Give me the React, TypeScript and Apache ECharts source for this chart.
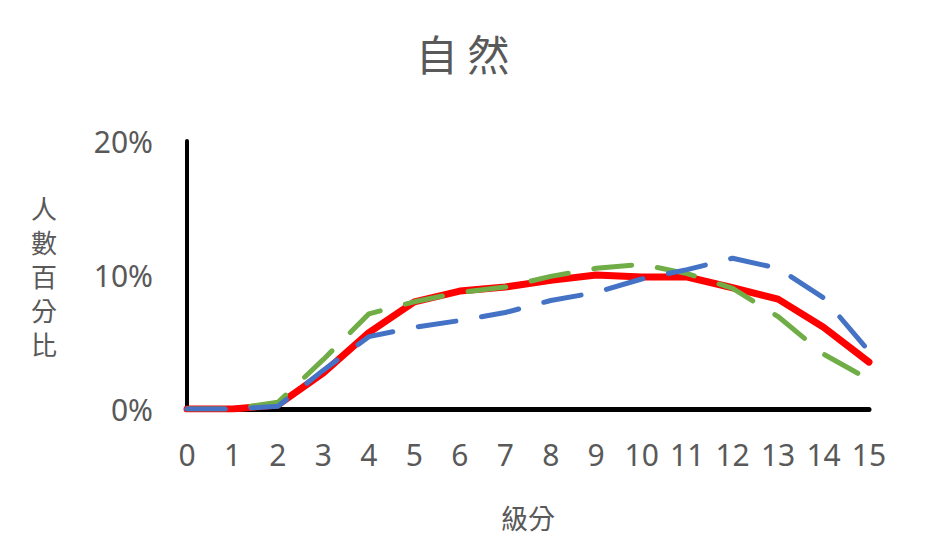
import React, { useEffect, useRef } from "react";
import * as echarts from "echarts";

const categories = ["0", "1", "2", "3", "4", "5", "6", "7", "8", "9", "10", "11", "12", "13", "14", "15"];
const redSeries = [0, 0, 0.3, 2.7, 5.7, 8.0, 8.8, 9.1, 9.6, 10.0, 9.85, 9.85, 9.05, 8.2, 6.1, 3.5];
const greenSeries = [0, 0, 0.5, 3.7, 7.1, 8.0, 8.7, 9.1, 9.9, 10.5, 10.8, 10.1, 9.0, 6.9, 4.1, 2.2];
const blueSeries = [0, 0, 0.2, 2.9, 5.4, 6.1, 6.6, 7.2, 8.1, 8.7, 9.7, 10.4, 11.25, 10.5, 8.3, 4.3];
const yTicks = { min: 0, max: 20, interval: 10 };

const TEXT = "#595959";

export default function App() {
  const ref = useRef<HTMLDivElement>(null);
  useEffect(() => {
    document.body.style.margin = "0";
    if (!ref.current) return;
    const chart = echarts.init(ref.current, undefined, { renderer: "svg" });
    const dashed = (color: string, data: number[]) => ({
      type: "line",
      data,
      symbol: "none",
      lineStyle: { color, width: 5, type: [38, 26], cap: "round", join: "round" },
      z: 3,
    });
    chart.setOption({
      animation: false,
      backgroundColor: "#ffffff",
      title: {
        text: "自 然",
        left: "center",
        top: 26,
        textStyle: { color: TEXT, fontSize: 42, fontWeight: "normal", fontFamily: "Noto Sans CJK TC" },
      },
      grid: { left: 187, right: 56, top: 141, bottom: 136, containLabel: false },
      xAxis: {
        type: "category",
        data: categories,
        boundaryGap: false,
        name: "級分",
        nameLocation: "middle",
        nameGap: 95,
        nameTextStyle: { color: TEXT, fontSize: 27, fontFamily: "Noto Sans CJK TC" },
        axisLine: { lineStyle: { color: "#000000", width: 5 } },
        axisTick: { show: false },
        axisLabel: { color: TEXT, fontSize: 30, fontFamily: "Noto Sans", margin: 30 },
        splitLine: { show: false },
      },
      yAxis: {
        type: "value",
        min: yTicks.min,
        max: yTicks.max,
        interval: yTicks.interval,
        name: "人\n數\n百\n分\n比",
        nameLocation: "middle",
        nameRotate: 0,
        nameGap: 130,
        nameTextStyle: { color: TEXT, fontSize: 26, lineHeight: 34, fontFamily: "Noto Sans CJK TC" },
        axisLine: { show: true, lineStyle: { color: "#000000", width: 4 } },
        axisTick: { show: false },
        axisLabel: { color: TEXT, fontSize: 30, fontFamily: "Noto Sans", margin: 34, formatter: "{value}%" },
        splitLine: { show: false },
      },
      series: [
        {
          type: "line",
          data: redSeries,
          symbol: "none",
          lineStyle: { color: "#FF0000", width: 7, cap: "round", join: "round" },
          z: 2,
        },
        dashed("#70AD47", greenSeries),
        dashed("#4472C4", blueSeries),
      ],
    });
    return () => chart.dispose();
  }, []);
  return <div ref={ref} style={{ width: 925, height: 545 }} />;
}
